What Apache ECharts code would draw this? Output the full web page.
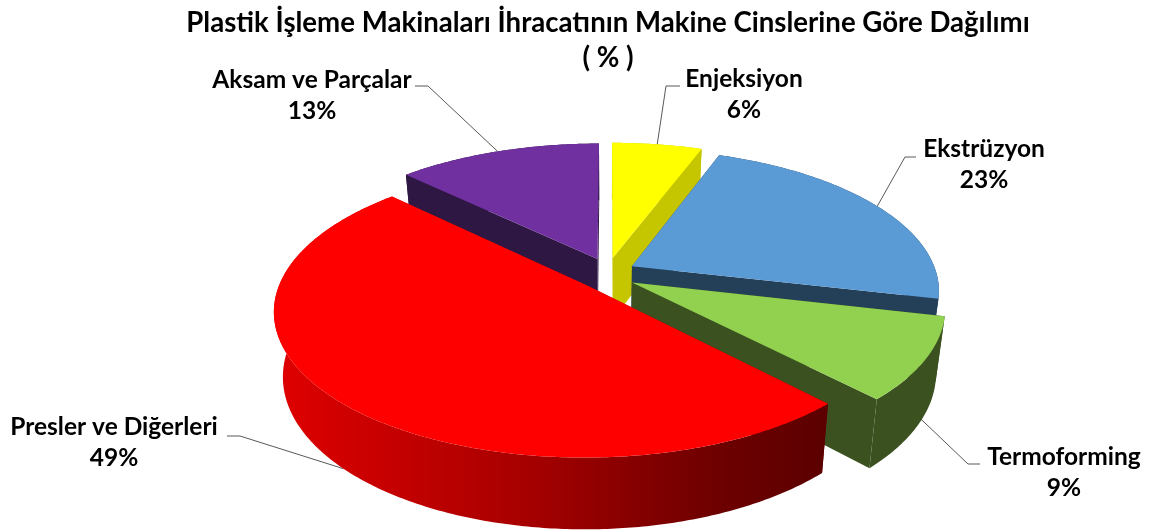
<!DOCTYPE html>
<html>
<head>
<meta charset="utf-8">
<title>Plastik İşleme Makinaları</title>
<style>html,body{margin:0;padding:0;background:#fff}#main{width:1152px;height:532px}</style>
<script src="https://cdn.jsdelivr.net/npm/echarts@6/dist/echarts.min.js"></script>
</head>
<body>
<div id="main"></div>
<script>
// data, clockwise from 12 o'clock. labels show these rounded, decimals
let categories = ['Enjeksiyon', 'Ekstrüzyon', 'Termoforming', 'Presler ve Diğerleri', 'Aksam ve Parçalar'];
let shares = [5.6, 23.1, 9.2, 49.4, 12.7];
let topColors = ['#ffff00', '#5b9bd5', '#92d050', '#ff0000', '#7030a0'];
let sideColors = ['#c6c600', '#243f58', '#3b5220', null, '#2e1743'];
// back slices first so the front ones cover them
let drawOrder = [4, 0, 1, 2, 3];

// label centre, leader elbow, leader end
let labelPos = [[744, 95], [984, 165], [1064, 473], [114, 443], [312, 96]];
let elbows = [[666, 86], [905, 157], [968, 464], [240, 436], [428, 86]];
let leaderEnds = [[680, 86], [916, 157], [980, 464], [227, 436], [415, 86]];
let leaderDepth = [0, 0, 0.85, 1, 0];

// hand fitted 3d projection
let cx = 608, cy = 274, scaleX = 305, scaleY = 139, persp = 0.165;
let explodeX = 0.09, explodeY = 0.12, thick = 63, shrink = 0.973;

function project(X, Y, depth) {
    let s = 1 / (1 - persp * Y);
    let x = cx + scaleX * X * s;
    let y = cy + scaleY * Y * s;
    let k = 1 - (1 - shrink) * depth;
    return [cx + (x - cx) * k, cy + (y - cy) * k + thick * s * depth];
}

let total = shares.reduce(function (a, b) { return a + b; }, 0);
let slices = [];
let acc = 0;
for (let i = 0; i < shares.length; i++) {
    let a0 = acc / total * Math.PI * 2;
    acc += shares[i];
    let a1 = acc / total * Math.PI * 2;
    let mid = (a0 + a1) / 2;
    slices.push({a0: a0, a1: a1, offX: explodeX * Math.sin(mid), offY: -explodeY * Math.cos(mid), mid: mid});
}

function pt(sl, a, r, depth) {
    return project(sl.offX + r * Math.sin(a), sl.offY - r * Math.cos(a), depth);
}

function arc(sl, depth) {
    let pts = [];
    let n = Math.ceil((sl.a1 - sl.a0) * 90);
    for (let i = 0; i <= n; i++) {
        pts.push(pt(sl, sl.a0 + (sl.a1 - sl.a0) * i / n, 1, depth));
    }
    return pts;
}

// red rim is shaded from left to right
let redRim = new echarts.graphic.LinearGradient(272, 0, 825, 0, [
    {offset: 0, color: '#e00000'},
    {offset: 0.45, color: '#a80000'},
    {offset: 0.8, color: '#6e0000'},
    {offset: 1, color: '#5c0000'}
], true);

function renderSlice(params, api) {
    let idx = api.value(0);
    let sl = slices[idx];
    let side = sideColors[idx] || redRim;
    let top = arc(sl, 0);
    let low = arc(sl, 1);
    let poly = function (points, fill) {
        return {type: 'polygon', shape: {points: points}, style: {fill: fill}};
    };
    let face = function (a) {
        return poly([pt(sl, a, 0, 0), pt(sl, a, 1, 0), pt(sl, a, 1, 1), pt(sl, a, 0, 1)], side);
    };
    return {
        type: 'group',
        children: [
            face(sl.a0),
            face(sl.a1),
            poly(top.concat(low.reverse()), side),
            poly([pt(sl, 0, 0, 0)].concat(top), topColors[idx])
        ]
    };
}

function renderLabel(params, api) {
    let idx = api.value(0);
    let sl = slices[idx];
    return {
        type: 'group',
        children: [
            {
                type: 'polyline',
                shape: {points: [pt(sl, sl.mid, 1, leaderDepth[idx]), elbows[idx], leaderEnds[idx]]},
                style: {stroke: '#595959', lineWidth: 1, fill: null}
            },
            {
                type: 'text',
                x: labelPos[idx][0],
                y: labelPos[idx][1],
                style: {
                    text: categories[idx] + '\n' + Math.round(shares[idx]) + '%',
                    fill: '#000',
                    font: 'bold 24.5px Lato',
                    lineHeight: 31,
                    align: 'center',
                    verticalAlign: 'middle'
                }
            }
        ]
    };
}

let chart = echarts.init(document.getElementById('main'));
chart.setOption({
    animation: false,
    backgroundColor: '#fff',
    title: {
        text: 'Plastik İşleme Makinaları İhracatının Makine Cinslerine Göre Dağılımı\n( % )',
        left: 603,
        top: 1,
        textAlign: 'center',
        textStyle: {fontFamily: 'Lato', fontWeight: 'bold', fontSize: 27.6, lineHeight: 35, color: '#000'}
    },
    series: [
        {
            type: 'custom',
            coordinateSystem: 'none',
            z: 1,
            silent: true,
            renderItem: renderLabel,
            data: categories.map(function (c, i) { return [i, shares[i]]; })
        },
        {
            type: 'custom',
            coordinateSystem: 'none',
            z: 2,
            silent: true,
            renderItem: renderSlice,
            data: drawOrder.map(function (i) { return [i, shares[i]]; })
        }
    ]
});
</script>
</body>
</html>
